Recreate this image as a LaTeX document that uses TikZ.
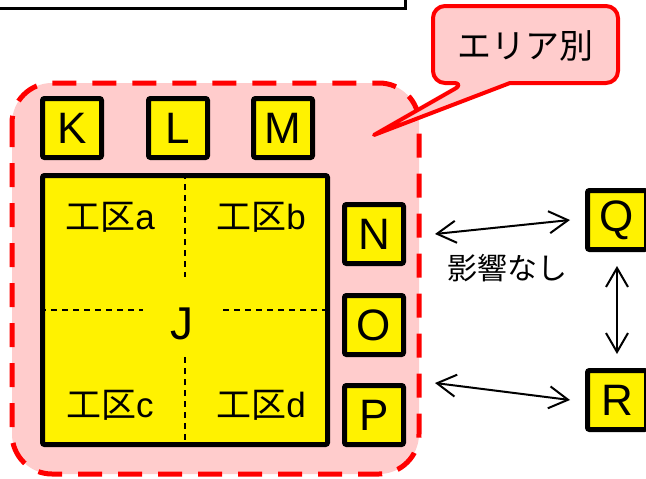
\documentclass[tikz,border=0pt]{standalone}
\usepackage{fontspec}
\setmainfont{Liberation Sans}
\newfontfamily\jpfont{Noto Sans CJK JP}
\usetikzlibrary{arrows.meta}

\definecolor{areapink}{HTML}{FFCCCC}
\tikzset{
  letterbox/.style={draw=black,fill=yellow,line width=5pt,rounded corners=2pt,
    minimum width=59pt,minimum height=59pt,inner sep=0pt,
    font=\fontsize{44}{44}\selectfont},
  koku/.style={inner sep=0pt,font=\fontsize{35}{35}\selectfont},
  biarrow/.style={{Straight Barb[length=19pt,width=22pt]}-{Straight Barb[length=19pt,width=22pt]},
    line width=2pt},
  subline/.style={line width=1.5pt,dash pattern=on 6pt off 5pt},
}

\begin{document}
\begin{tikzpicture}[x=1pt,y=-1pt]
  \useasboundingbox (0,0) rectangle (646,479);
  % box cut off at the top
  \draw[line width=3pt] (-10,-10) rectangle (405,8);

  % area (dashed)
  \draw[red,line width=5pt,dash pattern=on 24pt off 16pt,fill=areapink,
    rounded corners=40pt] (12,83) rectangle (419,474);

  % callout
  \draw[red,line width=4pt,fill=areapink,line join=round]
    (374,135) -- (510,83) [rounded corners=12pt] -- (618,83) -- (618,6)
    -- (433,6) -- (433,83) -- (465,83) [sharp corners] -- cycle;
  \node[inner sep=0pt,font=\jpfont\fontsize{34}{34}\selectfont] (callout) at (525,46) {エリア別};

  % letters
  \node[letterbox] (K) at (72,128) {K};
  \node[letterbox] (L) at (178,128) {L};
  \node[letterbox] (M) at (283,128) {M};
  \node[letterbox] (N) at (374,234) {N};
  \node[letterbox] (O) at (374,325) {O};
  \node[letterbox] (P) at (374,415) {P};
  \node[letterbox] (Q) at (617,220) {Q};
  \node[letterbox] (R) at (617,400) {R};

  % J and its four parts
  \node[draw=black,fill=yellow,line width=5pt,rounded corners=2pt,
    minimum width=285pt,minimum height=269pt] (J) at (185,310) {};
  \node[inner sep=0pt,font=\fontsize{46}{46}\selectfont] (Jlabel) at (182,324) {J};
  \draw[subline] (185,173) -- (185,277);
  \draw[subline] (185,357) -- (185,447);
  \draw[subline] (40,310) -- (143,310);
  \draw[subline] (223,310) -- (330,310);
  \node[koku] (ka) at (110,217) {{\jpfont 工区}a};
  \node[koku] (kb) at (261,217) {{\jpfont 工区}b};
  \node[koku] (kc) at (110,405) {{\jpfont 工区}c};
  \node[koku] (kd) at (261,405) {{\jpfont 工区}d};

  % arrows
  \draw[biarrow] ([xshift=29pt]N.east) -- ([xshift=-15pt]Q.west);
  \draw[biarrow] ([xshift=29pt]P.north east) -- ([xshift=-15pt]R.west);
  \draw[biarrow] ([yshift=-14pt]Q.south) -- ([yshift=14pt]R.north);
  \node[inner sep=0pt,font=\jpfont\fontsize{30}{30}\selectfont] (noeffect) at (507,268) {影響なし};
\end{tikzpicture}
\end{document}
